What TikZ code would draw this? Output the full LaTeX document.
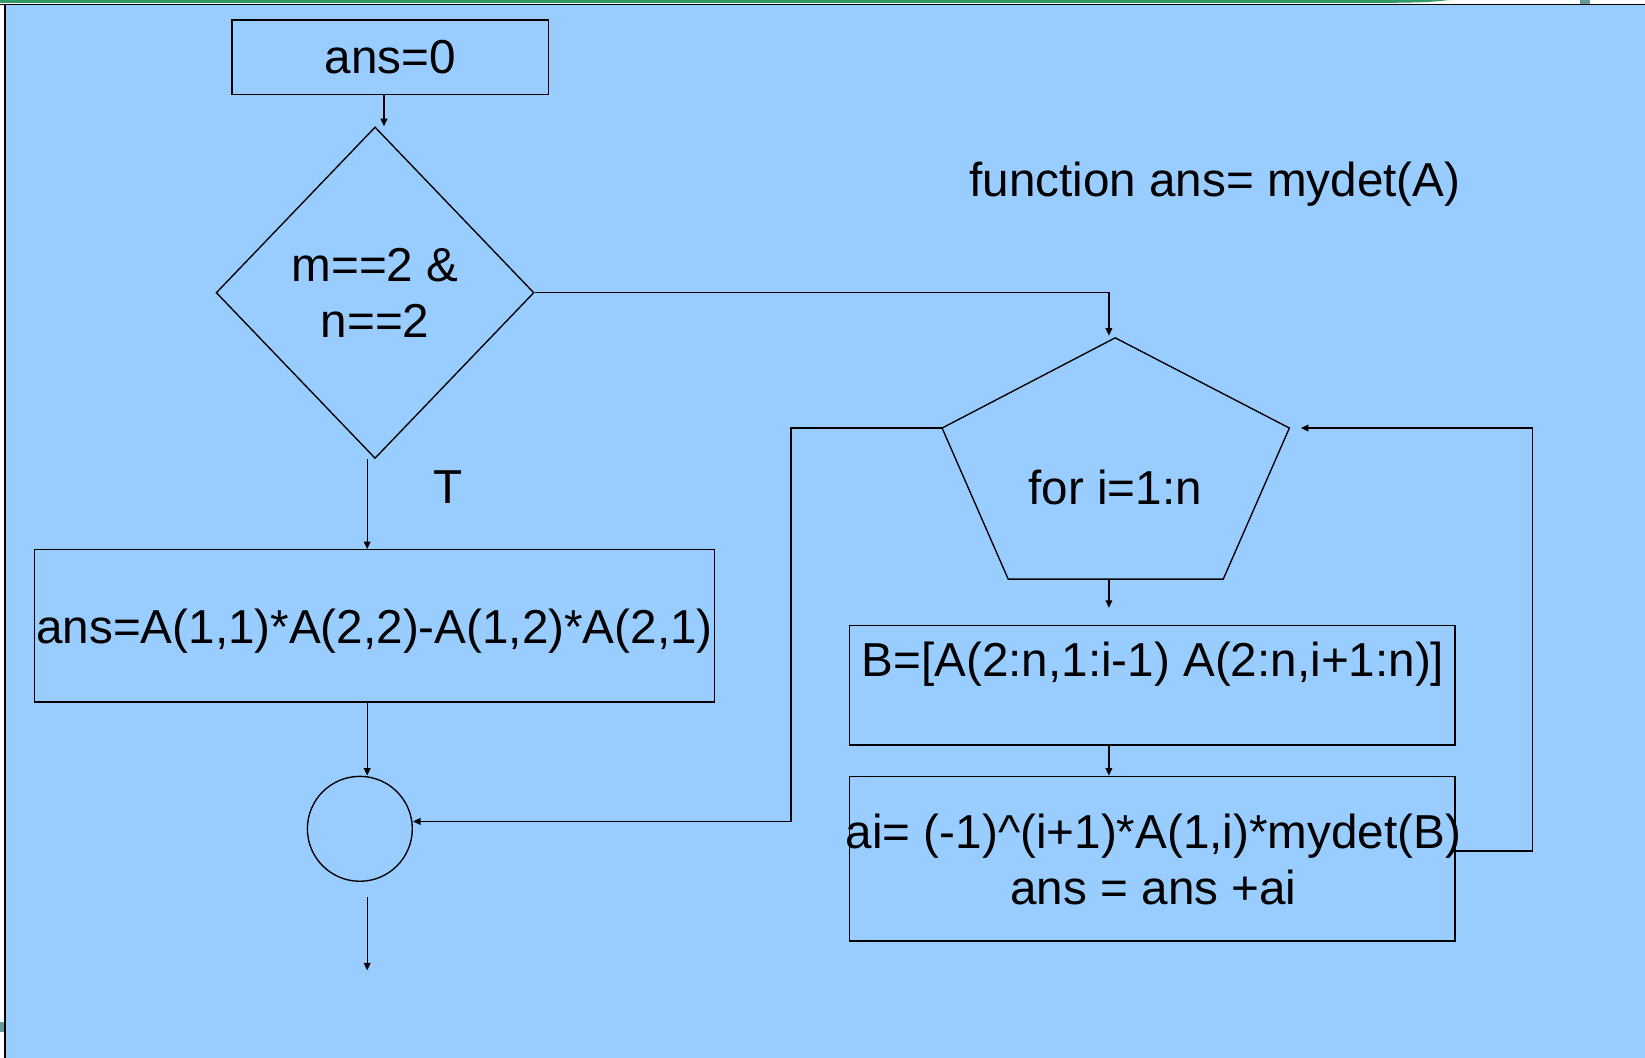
\documentclass[tikz,border=0pt]{standalone}
\usepackage{fontspec}
\setmainfont{Liberation Sans}
\usetikzlibrary{arrows.meta,shapes.geometric}
\definecolor{bgblue}{HTML}{99CCFF}
\definecolor{topgreen}{HTML}{339966}
\definecolor{tealblock}{HTML}{669999}
\begin{document}
\begin{tikzpicture}[x=0.5pt,y=-0.5pt,
  every node/.style={font=\fontsize{22.7pt}{26.5pt}\selectfont, inner sep=0pt},
  box/.style={draw, line width=0.65pt, rectangle},
  conn/.style={line width=0.65pt, -{Triangle[length=3.6pt,width=3.2pt]}},
  plain/.style={line width=0.65pt}]
\useasboundingbox (0,0) rectangle (1568,1008);
% background and frame
\fill[bgblue] (0,0) rectangle (1568,1008);
\fill[white] (0,0) rectangle (1568,3.8);
\fill[white] (0,0) rectangle (3.8,1008);
\fill[topgreen] (0,0) -- (1382,0) .. controls (1360,2.2) .. (1320,2.8) -- (0,2.8) -- cycle;
\fill[tealblock] (1506,0) rectangle (1516,3.8);
\fill[tealblock] (0,974) rectangle (3.8,984);
\draw[line width=0.65pt] (0,4.2) -- (1568,4.2);
\draw[line width=0.85pt] (4.7,3.8) -- (4.7,1008);
% nodes
\node[box, minimum width=151pt, minimum height=35.5pt] (A) at (372,54.5) {ans=0};
\node[draw, diamond, line width=0.65pt, minimum width=151.5pt, minimum height=158pt, align=center] (D) at (357.5,279) {m==2 \&\\n==2};
\node (T) at (427,464) {T};
\node[box, minimum width=324pt, minimum height=72.5pt, text depth=0pt] (C) at (357,596.5) {ans=A(1,1)*A(2,2)-A(1,2)*A(2,1)};
\node[draw, circle, line width=0.65pt, minimum size=50pt] (E) at (343,790) {};
\node (Fn) at (1158,176) {function ans= mydet(A)};
% pentagon
\coordinate (p1) at (1063,322);
\coordinate (p2) at (1229,408);
\coordinate (p3) at (1166,552);
\coordinate (p4) at (961,552);
\coordinate (p5) at (898,408);
\draw[plain, line join=miter] (p1) -- (p2) -- (p3) -- (p4) -- (p5) -- cycle;
\node (F) at (1063,465) {for i=1:n};
\coordinate (pb) at (1057,552);
% boxes on the right
\node[box, minimum width=288.5pt, minimum height=57pt] (B) at (1098.5,653) {};
\node (Bt) at (1099,633) {B=[A(2:n,1:i-1) A(2:n,i+1:n)]};
\node[box, minimum width=288.5pt, minimum height=78.5pt] (Ai) at (1098.5,818.5) {};
\node[align=center] (At) at (1099.5,819.5) {ai= (-1)\textasciicircum(i+1)*A(1,i)*mydet(B)\\ans = ans +ai};
% connectors
\draw[conn] ([xshift=-3pt]A.south) -- ([xshift=4.25pt]D.north);
\draw[conn] (D.east) -| ([shift={(-3pt,1pt)}]p1);
\draw[conn] ([xshift=-3.75pt]D.south) -- ([xshift=-3.5pt]C.north);
\draw[conn] ([xshift=-3.5pt]C.south) -- ([xshift=3.5pt]E.north);
\coordinate (o1) at (350,855);
\coordinate (o2) at (350,925);
\draw[conn] (o1) -- (o2);
\coordinate (c1) at (754,408);
\draw[conn] (p5) -- (c1) |- ([yshift=3.5pt]E.east);
\draw[conn] (pb) -- ([shift={(-20.75pt,8pt)}]B.north);
\draw[conn] ([xshift=-20.75pt]B.south) -- ([xshift=-20.75pt]Ai.north);
\coordinate (c2) at (1461,811);
\draw[conn] ([yshift=3.75pt]Ai.east) -- (c2) |- ([xshift=5.5pt]p2);
\end{tikzpicture}
\end{document}
